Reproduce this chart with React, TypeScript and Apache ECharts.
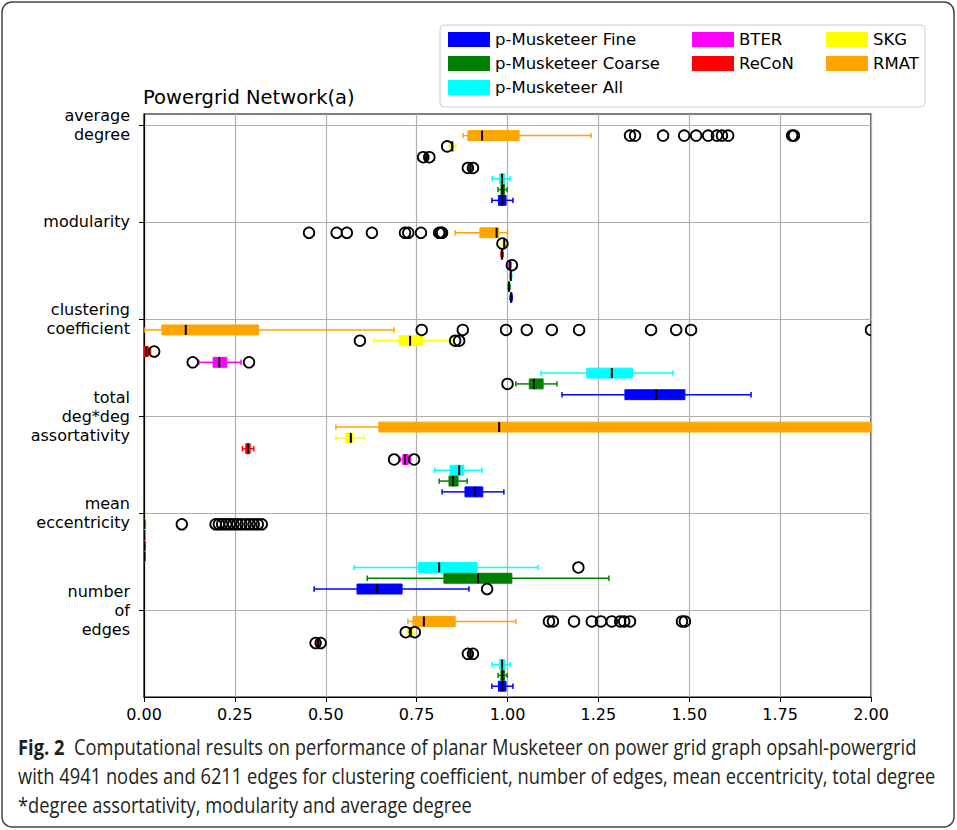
import React, { useEffect, useRef } from 'react';
import * as echarts from 'echarts';

// ---------------- data ----------------
const metricLabels = [
  'average\ndegree',
  'modularity',
  'clustering\ncoefficient',
  'total\ndeg*deg\nassortativity',
  'mean\neccentricity',
  'number\nof\nedges',
];
const groupTicks = [1, 10, 19, 28, 37, 46];
const slotCount = 55;

const generatorNames = ['RMAT', 'SKG', 'ReCoN', 'BTER', 'p-Musketeer All', 'p-Musketeer Coarse', 'p-Musketeer Fine'];
const generatorColors = ['#ffa500', '#ffff00', '#ff0000', '#ff00ff', '#00ffff', '#008000', '#0000ff'];

// [whiskerLow, q1, median, q3, whiskerHigh] per metric (order of metricLabels)
const rmatStats = [
  [0.878, 0.891, 0.930, 1.032, 1.230],
  [0.856, 0.924, 0.970, 0.976, 1.000],
  [0.0, 0.049, 0.115, 0.315, 0.688],
  [0.528, 0.646, 0.977, 2.4, 3.0],
  [0.0, 0.0, 0.001, 0.002, 0.004],
  [0.726, 0.740, 0.770, 0.856, 1.023],
];
const skgStats = [
  [0.840, 0.845, 0.848, 0.852, 0.858],
  [0.987, 0.989, 0.991, 0.993, 0.995],
  [0.633, 0.702, 0.732, 0.767, 0.850],
  [0.528, 0.555, 0.569, 0.575, 0.605],
  [0.0, 0.0, 0.001, 0.002, 0.003],
  [0.724, 0.728, 0.733, 0.738, 0.742],
];
const reconStats = [
  [0.771, 0.774, 0.777, 0.780, 0.783],
  [0.982, 0.983, 0.985, 0.987, 0.988],
  [0.0, 0.0, 0.006, 0.012, 0.018],
  [0.271, 0.280, 0.286, 0.292, 0.302],
  [0.0, 0.0, 0.001, 0.001, 0.002],
  [0.475, 0.477, 0.479, 0.482, 0.484],
];
const bterStats = [
  [0.893, 0.895, 0.898, 0.901, 0.903],
  [1.004, 1.005, 1.007, 1.009, 1.010],
  [0.151, 0.190, 0.207, 0.228, 0.267],
  [0.705, 0.712, 0.718, 0.727, 0.733],
  [0.0, 0.0, 0.001, 0.001, 0.002],
  [0.893, 0.895, 0.898, 0.901, 0.903],
];
const allStats = [
  [0.958, 0.978, 0.985, 0.992, 1.007],
  [1.006, 1.008, 1.009, 1.010, 1.012],
  [1.092, 1.218, 1.287, 1.344, 1.455],
  [0.800, 0.842, 0.867, 0.880, 0.930],
  [0.578, 0.754, 0.812, 0.916, 1.084],
  [0.958, 0.978, 0.985, 0.992, 1.007],
];
const coarseStats = [
  [0.974, 0.982, 0.986, 0.992, 0.999],
  [1.002, 1.003, 1.004, 1.006, 1.007],
  [1.023, 1.060, 1.073, 1.098, 1.136],
  [0.812, 0.839, 0.850, 0.864, 0.889],
  [0.614, 0.825, 0.919, 1.012, 1.279],
  [0.974, 0.982, 0.986, 0.992, 0.999],
];
const fineStats = [
  [0.957, 0.975, 0.986, 0.996, 1.015],
  [1.007, 1.009, 1.010, 1.012, 1.013],
  [1.150, 1.323, 1.409, 1.488, 1.670],
  [0.820, 0.883, 0.911, 0.932, 0.990],
  [0.468, 0.586, 0.641, 0.710, 0.894],
  [0.957, 0.975, 0.986, 0.996, 1.015],
];

// outliers per metric
const rmatOutliers = [
  [1.337, 1.351, 1.428, 1.486, 1.519, 1.552, 1.576, 1.590, 1.607, 1.783, 1.788],
  [0.454, 0.530, 0.558, 0.627, 0.718, 0.727, 0.762, 0.812, 0.817, 0.820],
  [0.764, 0.877, 0.996, 1.053, 1.122, 1.197, 1.395, 1.464, 1.505, 2.0],
  [],
  [0.104, 0.197, 0.206, 0.215, 0.226, 0.236, 0.246, 0.257, 0.268, 0.280, 0.291, 0.302, 0.313, 0.324],
  [1.114, 1.125, 1.183, 1.232, 1.257, 1.287, 1.310, 1.321, 1.337, 1.480, 1.488],
];
const skgOutliers = [[0.834], [0.986], [0.594, 0.856, 0.867], [], [], [0.720, 0.745]];
const reconOutliers = [[0.768, 0.785], [], [0.028], [], [], [0.472, 0.486]];
const bterOutliers = [[0.891, 0.905], [1.012], [0.134, 0.289], [0.688, 0.743], [], [0.891, 0.905]];
const allOutliers = [[], [], [], [], [1.195], []];
const coarseOutliers = [[], [], [1.0], [], [], []];
const fineOutliers = [[], [], [], [], [0.944], []];

const statsByGenerator = [rmatStats, skgStats, reconStats, bterStats, allStats, coarseStats, fineStats];
const outliersByGenerator = [rmatOutliers, skgOutliers, reconOutliers, bterOutliers, allOutliers, coarseOutliers, fineOutliers];

const captionLines = [
  'Computational results on performance of planar Musketeer on power grid graph opsahl-powergrid',
  'with 4941 nodes and 6211 edges for clustering coefficient, number of edges, mean eccentricity, total degree',
  '*degree assortativity, modularity and average degree',
];

// ---------------- helpers ----------------
const FONT = '"DejaVu Sans", sans-serif';
const CAP_FONT = '"Open Sans", "Noto Sans", sans-serif';
const CAP_SIZE = 21;
const CAP_COLOR = '#231f20';

function measure(text: string, weight: string) {
  const c = document.createElement('canvas');
  const ctx = c.getContext('2d')!;
  ctx.font = `${weight} ${CAP_SIZE}px "Open Sans", "Noto Sans", sans-serif`;
  return ctx.measureText(text).width;
}

function makeRenderer(color: string) {
  return (params: any, api: any) => {
    const pos = api.value(0);
    const vals = [1, 2, 3, 4, 5].map((i) => api.value(i));
    const xs = vals.map((v) => api.coord([v, pos])[0]);
    const y = api.coord([vals[2], pos])[1];
    const slot = api.size([0, 1])[1];
    const bh = slot * 0.92;
    const ch = slot * 0.5;
    const lw = 1.5;
    return {
      type: 'group',
      children: [
        { type: 'line', shape: { x1: xs[0], y1: y, x2: xs[1], y2: y }, style: { stroke: color, lineWidth: lw } },
        { type: 'line', shape: { x1: xs[3], y1: y, x2: xs[4], y2: y }, style: { stroke: color, lineWidth: lw } },
        { type: 'line', shape: { x1: xs[0], y1: y - ch / 2, x2: xs[0], y2: y + ch / 2 }, style: { stroke: color, lineWidth: lw } },
        { type: 'line', shape: { x1: xs[4], y1: y - ch / 2, x2: xs[4], y2: y + ch / 2 }, style: { stroke: color, lineWidth: lw } },
        {
          type: 'rect',
          shape: { x: xs[1], y: y - bh / 2, width: Math.max(xs[3] - xs[1], 1), height: bh },
          style: { fill: color, stroke: color, lineWidth: 1 },
        },
        { type: 'line', shape: { x1: xs[2], y1: y - bh / 2, x2: xs[2], y2: y + bh / 2 }, style: { stroke: '#000', lineWidth: 2 } },
      ],
    };
  };
}

function renderOutlier(params: any, api: any) {
  const p = api.coord([api.value(0), api.value(1)]);
  return {
    type: 'circle',
    shape: { cx: p[0], cy: p[1], r: 5.3 },
    style: { fill: 'none', stroke: '#000', lineWidth: 1.8 },
  };
}

export default function App() {
  const ref = useRef<HTMLDivElement>(null);

  useEffect(() => {
    if (!ref.current) return;
    const chart = echarts.init(ref.current, undefined, { renderer: 'svg' });

    const categories = Array.from({ length: slotCount }, (_, i) => String(i));
    const labelMap: Record<string, string> = {};
    groupTicks.forEach((t, i) => (labelMap[String(t)] = metricLabels[i]));
    const isTick = (index: number) => groupTicks.includes(index);

    const boxSeries = generatorNames.map((name, gi) => ({
      type: 'custom',
      name,
      clip: true,
      itemStyle: { color: generatorColors[gi] },
      renderItem: makeRenderer(generatorColors[gi]),
      encode: { x: [1, 2, 3, 4, 5], y: 0 },
      data: statsByGenerator[gi].map((s, mi) => [groupTicks[mi] + 1 + gi, ...s]),
      z: 2,
    }));

    const outlierData: number[][] = [];
    outliersByGenerator.forEach((perMetric, gi) =>
      perMetric.forEach((list, mi) => list.forEach((v) => outlierData.push([v, groupTicks[mi] + 1 + gi])))
    );

    // caption sizing
    const wLine2 = measure(captionLines[1], 'normal');
    const capScale = 918 / wLine2;

    const legendCommon = {
      orient: 'vertical',
      icon: 'rect',
      itemWidth: 42,
      itemHeight: 15,
      itemGap: 7,
      padding: 0,
      top: 31,
      z: 10,
      selectedMode: false,
      textStyle: { fontFamily: FONT, fontSize: 16.5, color: '#000' },
    };

    chart.setOption({
      animation: false,
      backgroundColor: '#fff',
      title: {
        text: 'Powergrid Network(a)',
        left: 143,
        top: 87,
        padding: 0,
        textStyle: { fontFamily: FONT, fontSize: 19.5, fontWeight: 'normal', color: '#000' },
      },
      legend: [
        { ...legendCommon, left: 448, data: ['p-Musketeer Fine', 'p-Musketeer Coarse', 'p-Musketeer All'] },
        { ...legendCommon, left: 692, data: ['BTER', 'ReCoN'] },
        { ...legendCommon, left: 826, data: ['SKG', 'RMAT'] },
      ],
      grid: {
        left: 144,
        right: 86,
        top: 114,
        bottom: 133,
        show: true,
        borderColor: '#000',
        borderWidth: 1.2,
        backgroundColor: 'transparent',
      },
      xAxis: {
        type: 'value',
        min: 0,
        max: 2,
        interval: 0.25,
        axisLine: { show: true, lineStyle: { color: '#000', width: 1.2 } },
        axisTick: { show: true, length: 5, lineStyle: { color: '#000' } },
        axisLabel: {
          fontFamily: FONT,
          fontSize: 16,
          color: '#000',
          margin: 9,
          formatter: (v: number) => v.toFixed(2),
        },
        splitLine: { show: true, lineStyle: { color: '#b0b0b0', width: 1.2 } },
      },
      yAxis: {
        type: 'category',
        data: categories,
        inverse: true,
        boundaryGap: false,
        axisLine: { show: true, lineStyle: { color: '#000', width: 1.2 } },
        axisTick: { show: true, length: 5, interval: (i: number) => isTick(i), lineStyle: { color: '#000' } },
        axisLabel: {
          interval: (i: number) => isTick(i),
          formatter: (v: string) => labelMap[v] || '',
          fontFamily: FONT,
          fontSize: 16,
          lineHeight: 19,
          color: '#000',
          margin: 14,
          align: 'right',
        },
        splitLine: { show: true, interval: (i: number) => isTick(i), lineStyle: { color: '#b0b0b0', width: 1.2 } },
      },
      graphic: [
        {
          type: 'rect',
          z: -10,
          shape: { x: 2, y: 2, width: 952, height: 825, r: 10 },
          style: { fill: 'none', stroke: '#444', lineWidth: 1.5 },
        },
        {
          type: 'rect',
          z: 1,
          shape: { x: 440, y: 25, width: 485, height: 82, r: 4 },
          style: { fill: '#fff', stroke: '#cccccc', lineWidth: 1 },
        },
        {
          type: 'text',
          x: 18,
          y: 747,
          scaleX: capScale,
          style: {
            text: '{b|Fig. 2}  ' + captionLines[0],
            fontFamily: CAP_FONT,
            fontSize: CAP_SIZE,
            fill: CAP_COLOR,
            verticalAlign: 'middle',
            rich: { b: { fontWeight: 'bold', fontFamily: CAP_FONT, fontSize: CAP_SIZE, fill: CAP_COLOR } },
          },
        },
        {
          type: 'text',
          x: 18,
          y: 776,
          scaleX: capScale,
          style: { text: captionLines[1], fontFamily: CAP_FONT, fontSize: CAP_SIZE, fill: CAP_COLOR, verticalAlign: 'middle' },
        },
        {
          type: 'text',
          x: 18,
          y: 805,
          scaleX: capScale,
          style: { text: captionLines[2], fontFamily: CAP_FONT, fontSize: CAP_SIZE, fill: CAP_COLOR, verticalAlign: 'middle' },
        },
      ],
      series: [
        ...boxSeries,
        {
          type: 'custom',
          name: 'outliers',
          clip: true,
          z: 3,
          renderItem: renderOutlier,
          encode: { x: 0, y: 1 },
          data: outlierData,
        },
      ],
    } as any);

    return () => chart.dispose();
  }, []);

  return (
    <div
      ref={ref}
      style={{ position: 'absolute', left: 0, top: 0, width: 957, height: 830, background: '#fff' }}
    />
  );
}
